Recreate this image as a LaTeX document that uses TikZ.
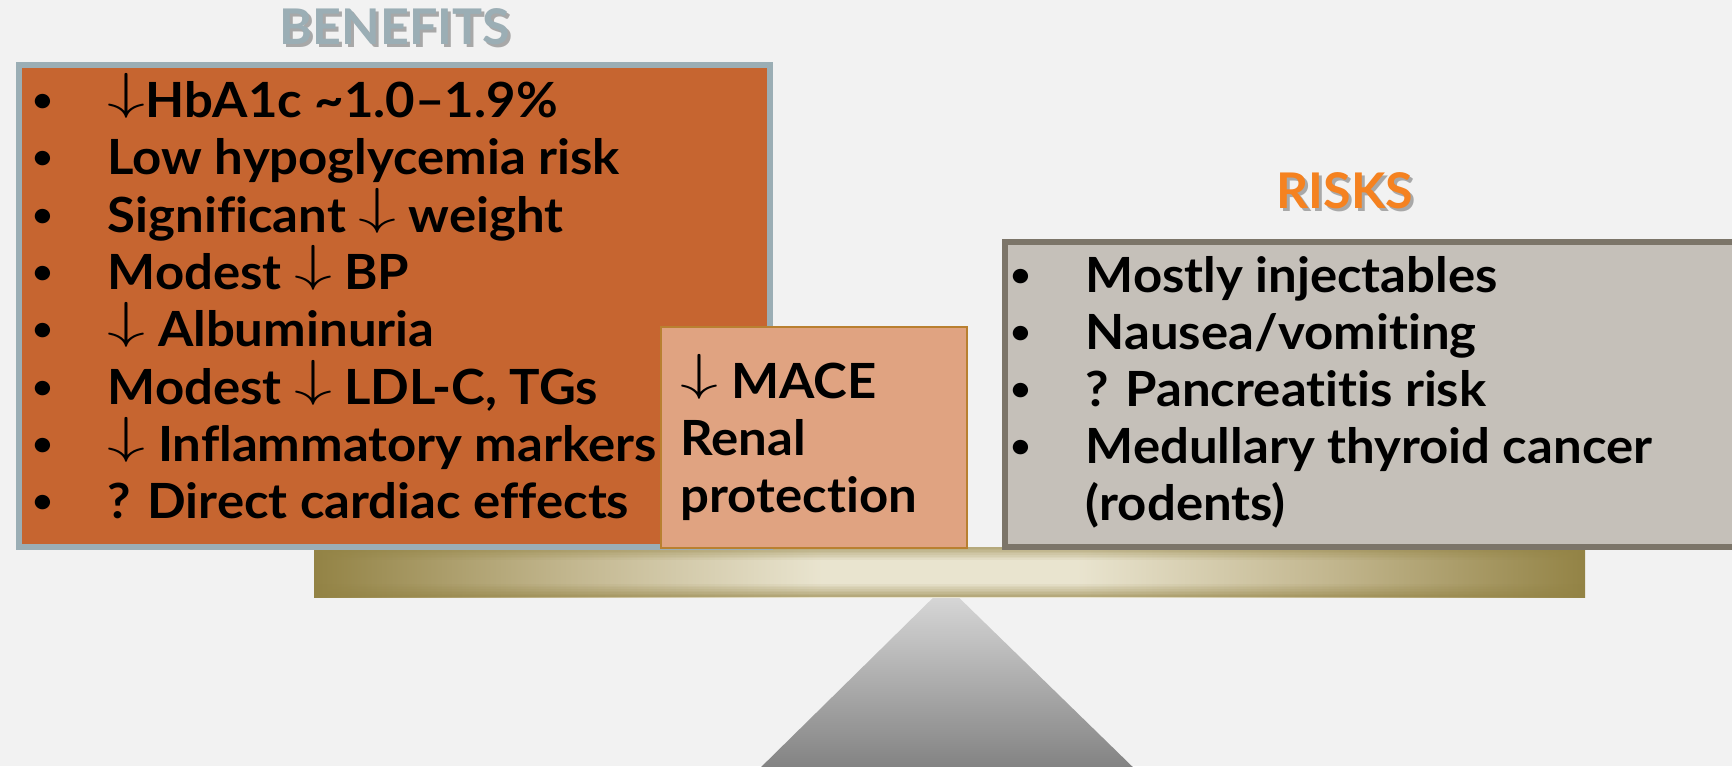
\documentclass[tikz,border=0pt]{standalone}
\usepackage{fontspec}
\usepackage{graphicx}
\setmainfont{Lato}[Ligatures=CommonOff, FakeStretch=1.05]
\newfontfamily\headfont{Lato}[FakeStretch=1.02]

\definecolor{slidebg}{HTML}{F2F2F2}
\definecolor{benefitfill}{HTML}{C66530}
\definecolor{benefitline}{HTML}{9BAEB5}
\definecolor{macefill}{HTML}{E0A381}
\definecolor{maceline}{HTML}{B98030}
\definecolor{riskfill}{HTML}{C5C0B9}
\definecolor{riskline}{HTML}{7C7569}
\definecolor{riskhead}{HTML}{F58220}
\definecolor{beamdark}{HTML}{938345}
\definecolor{beamlight}{HTML}{E9E4CF}
\definecolor{beammid}{HTML}{C2B68E}
\definecolor{baselight}{HTML}{DCDCDC}
\definecolor{basemid}{HTML}{9A9A9A}
\definecolor{basedark}{HTML}{7F7F7F}

% beam: gold at the ends, cream in the middle
\pgfdeclarehorizontalshading{beamshade}{100bp}{color(0bp)=(beamdark); color(25bp)=(beamdark);
  color(35bp)=(beammid); color(45bp)=(beamlight); color(55bp)=(beamlight);
  color(65bp)=(beammid); color(75bp)=(beamdark); color(100bp)=(beamdark)}

\newcommand{\bul}{\llap{\raisebox{0.6mm}{\fontsize{9.5}{10}\selectfont\textbullet}\hspace{5.5mm}}}
\newcommand{\dnarrow}{\smash{\raisebox{0.9mm}{\scalebox{1.5}[1]{$\downarrow$}}}}

\begin{document}
\begin{tikzpicture}[x=0.1mm, y=-0.1mm,
    box/.style={anchor=north west, inner sep=0pt},
    item/.style={anchor=base west, inner sep=0pt, font=\fontsize{13.8}{15}\selectfont\bfseries},
    head/.style={inner sep=0pt, font=\fontsize{14}{16}\selectfont\headfont\bfseries},
    headshadow/.style={head, text=black, opacity=0.3}]
    % Slide background
    \fill[slidebg] (0,0) rectangle (1732,766);
    \useasboundingbox (0,0) rectangle (1732,766);
    \clip (0,0) rectangle (1732,766);

    % Fulcrum and beam
    \shade[top color=baselight, middle color=basemid, bottom color=basedark] (946,585) -- (753,775) -- (1141,775) -- cycle;
    \shade[shading=beamshade] (314,547) rectangle (1585,597);
    % darker edges along top and bottom of the beam
    \foreach \i in {0,...,7} {
        \fill[beamdark, opacity={0.6*(1-\i/8)}] (314,547+1.6*\i) rectangle (1585,548.6+1.6*\i);
        \fill[beamdark, opacity={0.6*(1-\i/8)}] (314,597-1.6*\i) rectangle (1585,595.4-1.6*\i);
    }

    % Boxes
    \node[box, draw=benefitline, line width=0.6mm, fill=benefitfill, minimum width=75.1mm, minimum height=48.2mm] (BenefitsBox) at (16,62) {};
    \node[box, draw=riskline, line width=0.6mm, fill=riskfill, minimum width=74.3mm, minimum height=30.5mm] (RisksBox) at (1002,239) {};
    \node[box, draw=maceline, line width=0.17mm, fill=macefill, minimum width=30.6mm, minimum height=22.1mm] (MaceBox) at (660,326) {};

    % Titles
    \node[headshadow] (BenefitsShadow) at (398,30) {BENEFITS};
    \node[head, text=benefitline] (Benefits) at (395,27) {BENEFITS};
    \node[headshadow] (RisksShadow) at (1348,194) {RISKS};
    \node[head, text=riskhead] (Risks) at (1345,191) {RISKS};

    % Benefits list
    \node[item] (HbA1c) at (107,117) {\bul\dnarrow HbA1c \textasciitilde1.0–1.9\%};
    \node[item] (Hypo) at (107,174) {\bul Low hypoglycemia risk};
    \node[item] (Weight) at (107,232) {\bul Significant \dnarrow{} weight};
    \node[item] (BP) at (107,289) {\bul Modest \dnarrow{} BP};
    \node[item] (Albuminuria) at (107,346) {\bul\dnarrow{} Albuminuria};
    \node[item] (Lipids) at (107,404) {\bul Modest \dnarrow{} LDL-C, TGs};
    \node[item] (Inflammation) at (107,461) {\bul\dnarrow{} Inflammatory markers};
    \node[item] (Cardiac) at (107,518) {\bul ? Direct cardiac effects};

    % Middle box
    \node[item] (MACE) at (680,398) {\dnarrow{} MACE};
    \node[item] (Renal) at (680,455) {Renal};
    \node[item] (Protection) at (680,512) {protection};

    % Risks list
    \node[item] (Injectables) at (1085,292) {\bul Mostly injectables};
    \node[item] (Nausea) at (1085,349) {\bul Nausea/vomiting};
    \node[item] (Pancreatitis) at (1085,406) {\bul ? Pancreatitis risk};
    \node[item] (Thyroid) at (1085,463) {\bul Medullary thyroid cancer};
    \node[item] (Rodents) at (1085,520) {(rodents)};
\end{tikzpicture}
\end{document}
